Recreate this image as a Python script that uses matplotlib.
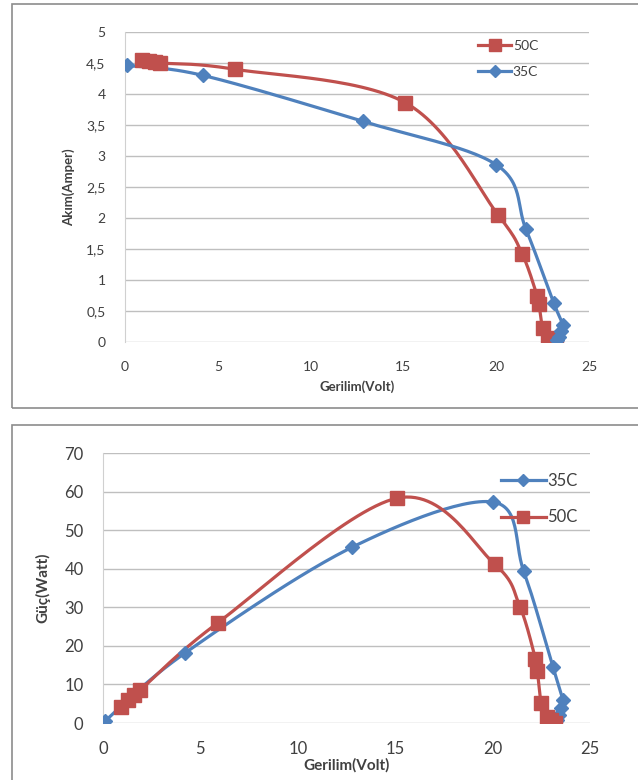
import numpy as np
import matplotlib
matplotlib.use("Agg")
import matplotlib.pyplot as plt
from matplotlib.patches import Rectangle
from matplotlib.lines import Line2D
from matplotlib.ticker import FuncFormatter

plt.rcParams['font.family'] = ['Lato', 'DejaVu Sans']

# ---- data ----
v_50 = [0.9, 1.3, 1.6, 1.9, 5.9, 15.1, 20.1, 21.4, 22.2, 22.3, 22.5, 22.8, 23.0, 23.2]
i_50 = [4.55, 4.53, 4.52, 4.50, 4.40, 3.86, 2.05, 1.42, 0.75, 0.62, 0.23, 0.07, 0.03, 0.00]
p_50 = [4.1, 5.9, 7.2, 8.5, 26.0, 58.3, 41.2, 30.2, 16.6, 13.4, 5.1, 1.6, 0.7, 0.1]

v_35 = [0.1, 4.2, 12.8, 20.0, 21.6, 23.1, 23.6, 23.5, 23.4, 23.3]
i_35 = [4.46, 4.30, 3.56, 2.86, 1.82, 0.63, 0.27, 0.17, 0.08, 0.03]
p_35 = [0.5, 18.1, 45.6, 57.3, 39.3, 14.5, 6.0, 4.0, 2.0, 0.7]

RED = '#C0504D'
BLUE = '#4F81BD'
GRID = '#BFBFBF'
TXT = '#404040'


def smooth(x, y, n=30):
    """Catmull-Rom style smoothing (like Excel smoothed lines)."""
    pts = np.column_stack([x, y]).astype(float)
    if len(pts) < 3:
        return pts[:, 0], pts[:, 1]
    p = np.vstack([pts[0], pts, pts[-1]])
    out = []
    for k in range(1, len(p) - 2):
        p0, p1, p2, p3 = p[k - 1], p[k], p[k + 1], p[k + 2]
        t = np.linspace(0, 1, n)[:, None]
        c1 = p1 + (p2 - p0) / 6.0
        c2 = p2 - (p3 - p1) / 6.0
        seg = ((1 - t) ** 3) * p1 + 3 * ((1 - t) ** 2) * t * c1 + 3 * (1 - t) * t ** 2 * c2 + t ** 3 * p2
        out.append(seg)
    out = np.vstack(out)
    return out[:, 0], out[:, 1]


fig = plt.figure(figsize=(6.38, 7.80), dpi=100)

# panel frames
W, H = 638.0, 780.0
fig.patches.append(Rectangle((12 / W, 1 - 408 / H), 640 / W, 404 / H, transform=fig.transFigure,
                             fill=False, edgecolor='#8C8C8C', linewidth=1.2))
fig.patches.append(Rectangle((12 / W, -0.01), 640 / W, 1 - 425 / H + 0.01, transform=fig.transFigure,
                             fill=False, edgecolor='#8C8C8C', linewidth=1.2))

comma = FuncFormatter(lambda v, pos: ('%g' % v).replace('.', ','))


def style(ax, ylim, ystep, fs, xpad, ypad):
    ax.set_xlim(0, 25)
    ax.set_ylim(*ylim)
    ax.set_xticks(np.arange(0, 26, 5))
    ax.set_yticks(np.arange(ylim[0], ylim[1] + 1e-9, ystep))
    ax.yaxis.set_major_formatter(comma)
    ax.grid(axis='y', color=GRID, linewidth=1.0)
    ax.set_axisbelow(True)
    for s in ['top', 'right', 'bottom']:
        ax.spines[s].set_visible(False)
    ax.spines['left'].set_color('#D0D0D0')
    ax.tick_params(length=0, labelsize=fs, colors=TXT)
    ax.tick_params(axis='x', pad=xpad)
    ax.tick_params(axis='y', pad=ypad)


def draw(ax, x, y, color, marker, ms, label):
    sx, sy = smooth(x, y)
    ax.plot(sx, sy, color=color, linewidth=2.3, zorder=3)
    ax.plot(x, y, linestyle='none', marker=marker, markersize=ms, color=color, zorder=4)
    return Line2D([0], [0], color=color, linewidth=2.3, marker=marker, markersize=ms * 0.85, label=label)


# top panel
ax1 = fig.add_axes([125 / W, 1 - 342 / H, (589 - 125) / W, (342 - 32) / H])
style(ax1, (0, 5), 0.5, 10, 14, 14)
h50 = draw(ax1, v_50, i_50, RED, 's', 10.5, '50C')
h35 = draw(ax1, v_35, i_35, BLUE, 'D', 7, '35C')
ax1.set_xlabel('Gerilim(Volt)', fontsize=9.5, fontweight='bold', color=TXT, labelpad=5)
ax1.set_ylabel('Akım(Amper)', fontsize=9.5, fontweight='bold', color=TXT, labelpad=8)
ax1.legend(handles=[h50, h35], loc='upper left', bbox_to_anchor=(0.755, 0.982), frameon=False,
           fontsize=10, handlelength=2.4, handletextpad=0.1, labelcolor=TXT, labelspacing=0.95,
           borderaxespad=0, borderpad=0.2)

# bottom panel
ax2 = fig.add_axes([103 / W, 1 - 723 / H, (590 - 103) / W, (723 - 453) / H])
style(ax2, (0, 70), 10, 12, 13, 14)
g35 = draw(ax2, v_35, p_35, BLUE, 'D', 7, '35C')
g50 = draw(ax2, v_50, p_50, RED, 's', 10.5, '50C')
ax2.set_xlabel('Gerilim(Volt)', fontsize=11, fontweight='bold', color=TXT, labelpad=1)
ax2.set_ylabel('Güç(Watt)', fontsize=11, fontweight='bold', color=TXT, labelpad=10)
ax2.legend(handles=[g35, g50], loc='upper left', bbox_to_anchor=(0.81, 0.94), frameon=False,
           fontsize=12, handlelength=2.7, handletextpad=0.1, labelcolor=TXT, labelspacing=1.25,
           borderaxespad=0, borderpad=0.2)

fig.savefig('out.png', dpi=100, facecolor='white')
